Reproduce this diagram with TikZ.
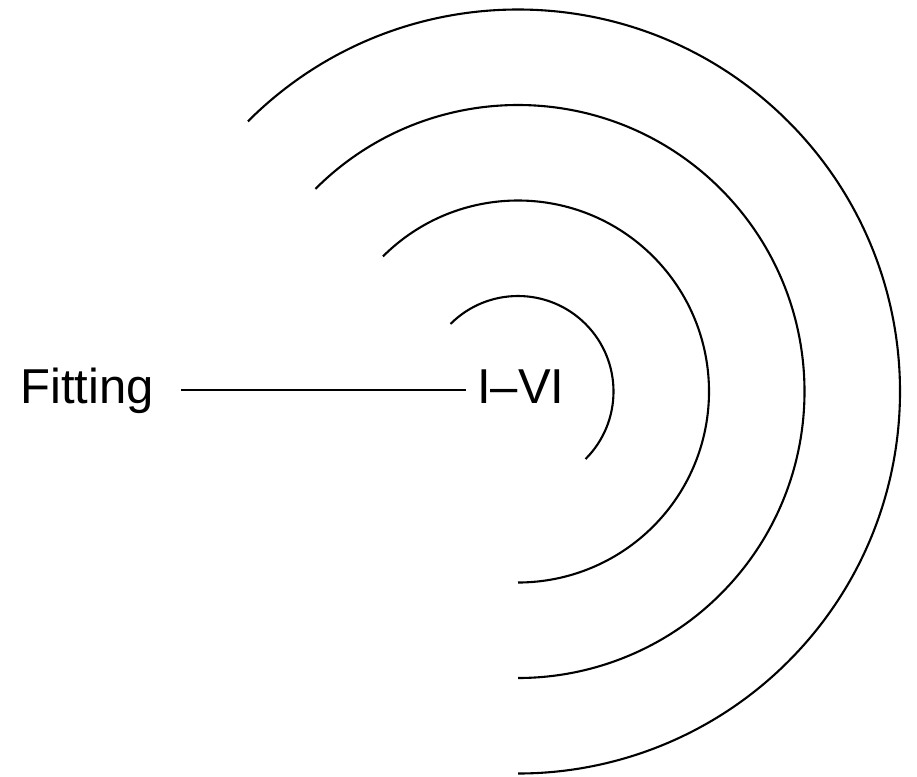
\documentclass[tikz,border=0pt]{standalone}
\usepackage{fontspec}
\setmainfont{Liberation Sans}
\tikzset{
  ring/.style={line width=2.1pt, line cap=butt},
  lbl/.style={font=\fontsize{49}{49}\selectfont, inner sep=0pt, anchor=base west},
  link/.style={line width=2.1pt}
}
\begin{document}
\begin{tikzpicture}[x=1pt,y=-1pt]
\useasboundingbox (0,0) rectangle (917,776);
\coordinate (c) at (518,391.5);
\draw[ring] ([shift={(-135:95.5)}]c) arc[start angle=-135, end angle=45, radius=95.5];
\draw[ring] ([shift={(-135:191)}]c) arc[start angle=-135, end angle=90, radius=191];
\draw[ring] ([shift={(-135:286.5)}]c) arc[start angle=-135, end angle=90, radius=286.5];
\draw[ring] ([shift={(-135:382)}]c) arc[start angle=-135, end angle=90, radius=382];
\node[lbl] (fit) at (20,403) {Fitting};
\node[lbl] (iv) at (477,403) {I–VI};
\coordinate (ls) at (181,390);
\coordinate (le) at (466,390);
\draw[link] (ls) -- (le);
\end{tikzpicture}
\end{document}
